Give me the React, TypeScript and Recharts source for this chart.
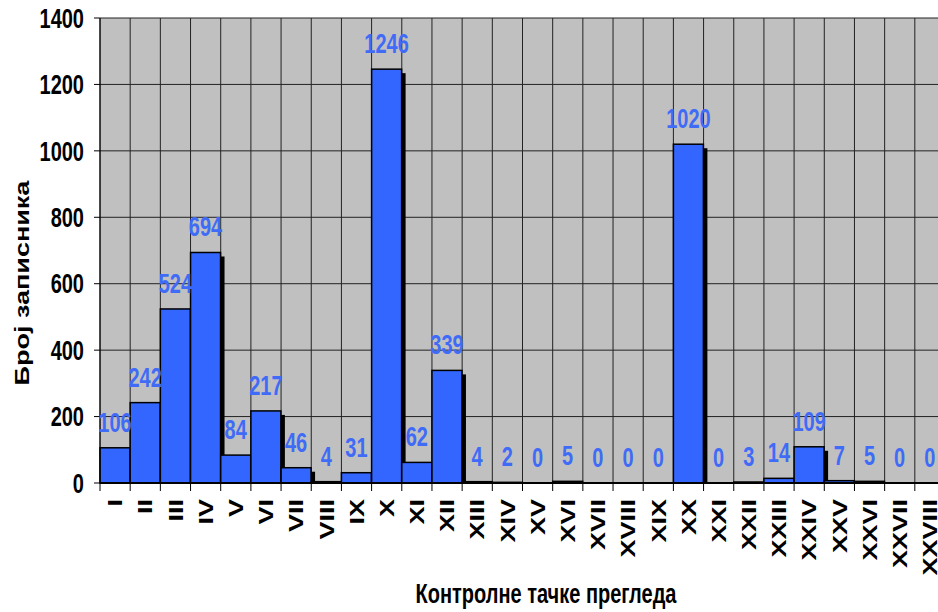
import React from 'react';
import { BarChart, Bar, XAxis, YAxis, CartesianGrid, LabelList } from 'recharts';

const CATEGORIES = ['I', 'II', 'III', 'IV', 'V', 'VI', 'VII', 'VIII', 'IX', 'X', 'XI', 'XII', 'XIII', 'XIV', 'XV', 'XVI', 'XVII', 'XVIII', 'XIX', 'XX', 'XXI', 'XXII', 'XXIII', 'XXIV', 'XXV', 'XXVI', 'XXVII', 'XXVIII'];
const VALUES = [106, 242, 524, 694, 84, 217, 46, 4, 31, 1246, 62, 339, 4, 2, 0, 5, 0, 0, 0, 1020, 0, 3, 14, 109, 7, 5, 0, 0];
const Y_TICKS = [0, 200, 400, 600, 800, 1000, 1200, 1400];
const Y_TITLE = 'Број записника';
const X_TITLE = 'Контролне тачке прегледа';

const data = CATEGORIES.map((name, i) => ({ name, value: VALUES[i] }));

const FONT = "'Liberation Sans', Arial, sans-serif";
const SY = 1.35;
const CHART_W = 960;
const CHART_H = 612;
const MARGIN = { top: 18, right: 15, bottom: 0, left: 0 };
const Y_AXIS_W = 100;
const X_AXIS_H = 129;
const BAND_FALLBACK = (CHART_W - MARGIN.left - MARGIN.right - Y_AXIS_W) / CATEGORIES.length;

function YTick(props: any) {
  const { x, y, payload } = props;
  return (
    <text
      transform={`translate(${x},${y}) scale(1,${SY})`}
      textAnchor="end"
      dy="0.36em"
      fontFamily={FONT}
      fontWeight="bold"
      fontSize={20}
      fill="#000"
    >
      {payload.value}
    </text>
  );
}

function XTick(props: any) {
  const { x, y, payload, index, width, visibleTicksCount } = props;
  const band = typeof width === 'number' && visibleTicksCount ? width / visibleTicksCount : BAND_FALLBACK;
  const axisY = y - 8;
  return (
    <g>
      <line x1={x - band / 2} x2={x - band / 2} y1={axisY} y2={axisY + 8} stroke="#000" strokeWidth={1} />
      {index === visibleTicksCount - 1 && (
        <line x1={x + band / 2} x2={x + band / 2} y1={axisY} y2={axisY + 8} stroke="#000" strokeWidth={1} />
      )}
      <text
        transform={`translate(${x},${y + 8}) rotate(-90) scale(${SY},1)`}
        textAnchor="end"
        dy="0.36em"
        fontFamily={FONT}
        fontWeight="bold"
        fontSize={20}
        fill="#000"
      >
        {payload.value}
      </text>
    </g>
  );
}

function ShadowBar(props: any) {
  const { x, y, width, height } = props;
  if (!height || height <= 0) return <g />;
  return (
    <g>
      <rect x={x + 4} y={y + 4} width={width} height={Math.max(height - 4, 0)} fill="#000" />
      <rect x={x} y={y} width={width} height={height} fill="#3366FF" stroke="#000" strokeWidth={1.5} />
    </g>
  );
}

function BarLabel(props: any) {
  const vb = props.viewBox && typeof props.viewBox.x === 'number' ? props.viewBox : props;
  const { x, y, width } = vb;
  return (
    <text
      transform={`translate(${x + width / 2},${y - 16}) scale(1,${SY})`}
      textAnchor="middle"
      fontFamily={FONT}
      fontWeight="bold"
      fontSize={20}
      fill="#3F6BF7"
    >
      {props.value}
    </text>
  );
}

function YTitle() {
  return (
    <text
      transform={`translate(22,283) rotate(-90) scale(${SY},1)`}
      textAnchor="middle"
      dy="0.36em"
      fontFamily={FONT}
      fontWeight="bold"
      fontSize={20}
      fill="#000"
    >
      {Y_TITLE}
    </text>
  );
}

function XTitle() {
  return (
    <text
      transform={`translate(546,603) scale(1,${SY})`}
      textAnchor="middle"
      fontFamily={FONT}
      fontWeight="bold"
      fontSize={20}
      fill="#000"
    >
      {X_TITLE}
    </text>
  );
}

export default function App() {
  return (
    <div style={{ position: 'absolute', left: 0, top: 0, width: 938, height: 612, overflow: 'hidden', background: '#fff' }}>
      <BarChart width={CHART_W} height={CHART_H} data={data} margin={MARGIN} barCategoryGap={0} barGap={0}>
        <CartesianGrid
          fill="#C0C0C0"
          stroke="#222"
          strokeWidth={1}
          horizontalValues={Y_TICKS}
          verticalCoordinatesGenerator={({ offset }: any) =>
            Array.from({ length: CATEGORIES.length + 1 }, (_, i) => offset.left + (i * offset.width) / CATEGORIES.length)
          }
        />
        <XAxis
          dataKey="name"
          height={X_AXIS_H}
          interval={0}
          tickSize={6}
          tickMargin={2}
          tickLine={false}
          axisLine={{ stroke: '#000', strokeWidth: 2 }}
          tick={<XTick />}
          label={<XTitle />}
        />
        <YAxis
          width={Y_AXIS_W}
          domain={[0, 1400]}
          ticks={Y_TICKS}
          interval={0}
          tickSize={6}
          tickMargin={10}
          tickLine={{ stroke: '#000' }}
          axisLine={{ stroke: '#000', strokeWidth: 1 }}
          tick={<YTick />}
          label={<YTitle />}
        />
        <Bar dataKey="value" isAnimationActive={false} shape={<ShadowBar />}>
          <LabelList dataKey="value" content={<BarLabel />} />
        </Bar>
      </BarChart>
    </div>
  );
}
